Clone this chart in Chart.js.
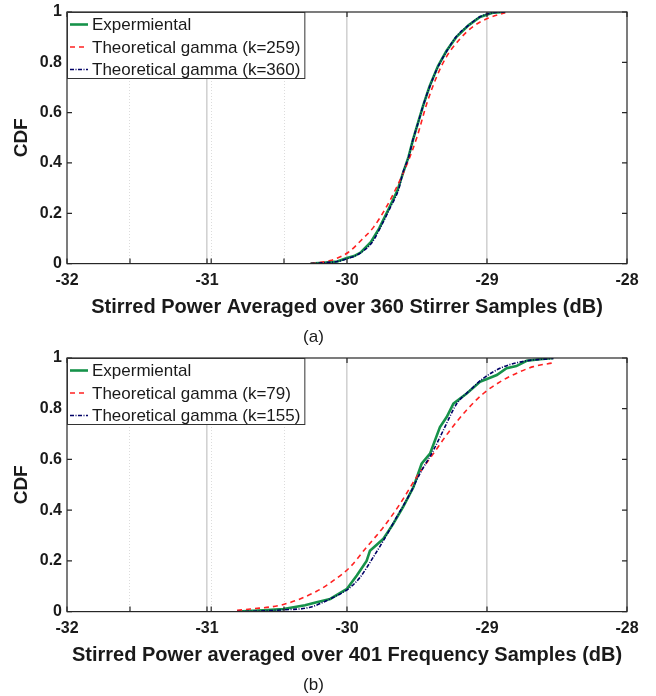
<!DOCTYPE html>
<html>
<head>
<meta charset="utf-8">
<script src="https://cdn.jsdelivr.net/npm/chart.js@4"></script>
<style>
  body { margin: 0; background: #fff; }
  .panel { position: relative; width: 656px; height: 348px; }
</style>
</head>
<body>
<div class="panel"><canvas id="chartA"></canvas></div>
<div class="panel"><canvas id="chartB"></canvas></div>
<script>
// axis ticks
const xMajorTicks = [-32, -31, -30, -29, -28];
const xMinorTicks = [-31.55, -30.97, -30.45];
const yTicks = [0, 0.2, 0.4, 0.6, 0.8, 1];

// (a) 360 stirrer samples
const expA_x = [-30.26, -30.17, -30.07, -30.0, -29.95, -29.9, -29.83, -29.77, -29.7, -29.64, -29.6, -29.56, -29.53, -29.49, -29.455, -29.41, -29.35, -29.29, -29.22, -29.13, -29.05, -28.96, -28.87];
const expA_y = [0, 0.003, 0.008, 0.022, 0.03, 0.045, 0.085, 0.14, 0.22, 0.29, 0.36, 0.425, 0.49, 0.565, 0.63, 0.705, 0.785, 0.845, 0.9, 0.948, 0.98, 0.997, 1];
const gamma259_x = [-30.26, -30.12, -29.99, -29.9, -29.81, -29.72, -29.645, -29.57, -29.5, -29.43, -29.36, -29.29, -29.19, -29.1, -28.99, -28.87];
const gamma259_y = [0, 0.012, 0.045, 0.092, 0.145, 0.224, 0.304, 0.397, 0.503, 0.636, 0.742, 0.822, 0.895, 0.942, 0.976, 0.997];
const gamma360_x = [-30.26, -30.15, -30.07, -29.99, -29.91, -29.82, -29.76, -29.69, -29.63, -29.6, -29.56, -29.53, -29.49, -29.455, -29.41, -29.35, -29.29, -29.22, -29.13, -29.05, -28.96, -28.87];
const gamma360_y = [0, 0.004, 0.008, 0.021, 0.04, 0.085, 0.145, 0.224, 0.297, 0.363, 0.423, 0.49, 0.563, 0.63, 0.702, 0.782, 0.842, 0.902, 0.948, 0.981, 0.997, 1];

// (b) 401 frequency samples
const expB_x = [-30.785, -30.6, -30.455, -30.3, -30.217, -30.12, -30.0, -29.93, -29.86, -29.836, -29.74, -29.67, -29.6, -29.526, -29.467, -29.407, -29.336, -29.288, -29.24, -29.145, -29.05, -28.93, -28.86, -28.79, -28.717, -28.62, -28.526];
const expB_y = [0, 0.005, 0.01, 0.025, 0.037, 0.05, 0.09, 0.142, 0.2, 0.24, 0.287, 0.346, 0.412, 0.49, 0.583, 0.623, 0.728, 0.767, 0.82, 0.86, 0.906, 0.933, 0.96, 0.968, 0.989, 0.995, 1];
const gamma79_x = [-30.785, -30.69, -30.455, -30.217, -30.098, -29.979, -29.86, -29.74, -29.621, -29.502, -29.383, -29.264, -29.145, -29.026, -28.907, -28.788, -28.669, -28.526];
const gamma79_y = [0.005, 0.01, 0.028, 0.08, 0.122, 0.175, 0.254, 0.333, 0.425, 0.531, 0.623, 0.715, 0.795, 0.86, 0.906, 0.94, 0.966, 0.981];
const gamma155_x = [-30.785, -30.69, -30.455, -30.264, -30.121, -29.99, -29.907, -29.812, -29.74, -29.645, -29.55, -29.479, -29.383, -29.312, -29.216, -29.121, -29.026, -28.883, -28.717, -28.526];
const gamma155_y = [0, 0.001, 0.007, 0.017, 0.05, 0.09, 0.135, 0.215, 0.28, 0.373, 0.465, 0.544, 0.636, 0.715, 0.82, 0.873, 0.92, 0.965, 0.989, 0.998];

const FONT = '"Liberation Sans", Arial, sans-serif';
Chart.defaults.font.family = FONT;
Chart.defaults.color = '#1a1a1a';

const GREEN = '#16924a', RED = '#ff2222', NAVY = '#000066';

function pts(xs, ys) { return xs.map((x, i) => ({ x: x, y: ys[i] })); }

// black box round the plot plus inward tick marks, MATLAB style
const frame = {
  id: 'frame',
  afterDatasetsDraw(chart) {
    const { ctx, chartArea: a, scales: { x, y } } = chart;
    ctx.save();
    ctx.strokeStyle = '#262626';
    ctx.lineWidth = 1.2;
    ctx.strokeRect(a.left, a.top, a.right - a.left, a.bottom - a.top);
    ctx.beginPath();
    x.ticks.forEach(t => {
      const px = x.getPixelForValue(t.value);
      ctx.moveTo(px, a.bottom); ctx.lineTo(px, a.bottom - 5);
      ctx.moveTo(px, a.top); ctx.lineTo(px, a.top + 5);
    });
    y.ticks.forEach(t => {
      const py = y.getPixelForValue(t.value);
      ctx.moveTo(a.left, py); ctx.lineTo(a.left + 5, py);
      ctx.moveTo(a.right, py); ctx.lineTo(a.right - 5, py);
    });
    ctx.stroke();
    ctx.restore();
  }
};

// legend box in the top-left corner of the plot
const cornerLegend = {
  id: 'cornerLegend',
  afterDraw(chart) {
    const { ctx, chartArea: a } = chart;
    const sets = chart.data.datasets;
    ctx.save();
    ctx.font = '17px ' + FONT;
    const w = Math.max(...sets.map(d => ctx.measureText(d.label).width)) + 29;
    const h = 66;
    ctx.fillStyle = '#fff';
    ctx.fillRect(a.left, a.top, w, h);
    ctx.strokeStyle = '#333';
    ctx.lineWidth = 1;
    ctx.strokeRect(a.left + 0.5, a.top + 0.5, w, h);
    sets.forEach((d, i) => {
      const yy = a.top + 12.5 + i * 22.5;
      ctx.strokeStyle = d.borderColor;
      ctx.lineWidth = d.borderWidth;
      ctx.setLineDash(d.borderDash || []);
      ctx.beginPath();
      ctx.moveTo(a.left + 3, yy);
      ctx.lineTo(a.left + 21, yy);
      ctx.stroke();
      ctx.setLineDash([]);
      ctx.fillStyle = '#1a1a1a';
      ctx.textBaseline = 'middle';
      ctx.fillText(d.label, a.left + 25, yy + 1);
    });
    ctx.restore();
  }
};

function makeChart(id, datasets, xTitle, caption, topPad) {
  return new Chart(document.getElementById(id), {
    type: 'line',
    data: { datasets: datasets },
    options: {
      responsive: true,
      maintainAspectRatio: false,
      animation: false,
      layout: { padding: { top: topPad, right: 29, bottom: 0, left: 0 } },
      elements: { point: { radius: 0 } },
      plugins: {
        legend: { display: false },
        tooltip: { enabled: false },
        title: {
          display: true, position: 'bottom', text: caption,
          font: { size: 17, weight: 'normal' }, color: '#1a1a1a',
          padding: { top: 8, bottom: 0 }
        }
      },
      scales: {
        x: {
          type: 'linear', min: -32, max: -28,
          afterBuildTicks: s => { s.ticks = xMajorTicks.concat(xMinorTicks).sort((p, q) => p - q).map(v => ({ value: v })); },
          afterFit: s => { s.height = 56; },
          ticks: {
            autoSkip: false, maxRotation: 0, padding: 7,
            font: { size: 16, weight: 'bold' },
            callback: v => Number.isInteger(v) ? String(v) : ''
          },
          grid: {
            drawTicks: false,
            color: c => {
              const v = c.tick && c.tick.value;
              if (v === -32 || v === -28) return 'rgba(0,0,0,0)';
              return xMinorTicks.includes(v) ? '#dcdcdc' : '#d2d2d2';
            },
            lineWidth: c => (c.tick && xMinorTicks.includes(c.tick.value)) ? 1 : 1.6
          },
          border: { display: false, dash: c => (c.tick && xMinorTicks.includes(c.tick.value)) ? [1, 2] : [] },
          title: { display: true, text: xTitle, font: { size: 20, weight: 'bold' }, padding: { top: 0, bottom: 0 } }
        },
        y: {
          min: 0, max: 1,
          afterBuildTicks: s => { s.ticks = yTicks.map(v => ({ value: v })); },
          afterFit: s => { s.width = 67; },
          ticks: {
            padding: 5,
            font: { size: 16, weight: 'bold', lineHeight: 0.6 },
            callback: v => (v === 0 || v === 1) ? String(v) : v.toFixed(1)
          },
          grid: { display: false, drawTicks: false },
          border: { display: false },
          title: { display: true, text: 'CDF', font: { size: 19, weight: 'bold' }, padding: { top: 10, bottom: 0 } }
        }
      }
    },
    plugins: [frame, cornerLegend]
  });
}

makeChart('chartA', [
  { label: 'Expermiental', data: pts(expA_x, expA_y), borderColor: GREEN, borderWidth: 2.6, tension: 0, order: 3 },
  { label: 'Theoretical gamma (k=259)', data: pts(gamma259_x, gamma259_y), borderColor: RED, borderWidth: 1.6, borderDash: [5, 4], cubicInterpolationMode: 'monotone', order: 2 },
  { label: 'Theoretical gamma (k=360)', data: pts(gamma360_x, gamma360_y), borderColor: NAVY, borderWidth: 1.6, borderDash: [4, 1.5, 1, 1.5], cubicInterpolationMode: 'monotone', order: 1 }
], 'Stirred Power Averaged over 360 Stirrer Samples (dB)', '(a)', 12);

makeChart('chartB', [
  { label: 'Expermiental', data: pts(expB_x, expB_y), borderColor: GREEN, borderWidth: 2.6, tension: 0, order: 3 },
  { label: 'Theoretical gamma (k=79)', data: pts(gamma79_x, gamma79_y), borderColor: RED, borderWidth: 1.6, borderDash: [5, 4], cubicInterpolationMode: 'monotone', order: 2 },
  { label: 'Theoretical gamma (k=155)', data: pts(gamma155_x, gamma155_y), borderColor: NAVY, borderWidth: 1.6, borderDash: [4, 1.5, 1, 1.5], cubicInterpolationMode: 'monotone', order: 1 }
], 'Stirred Power averaged over 401 Frequency Samples (dB)', '(b)', 10);
</script>
</body>
</html>
